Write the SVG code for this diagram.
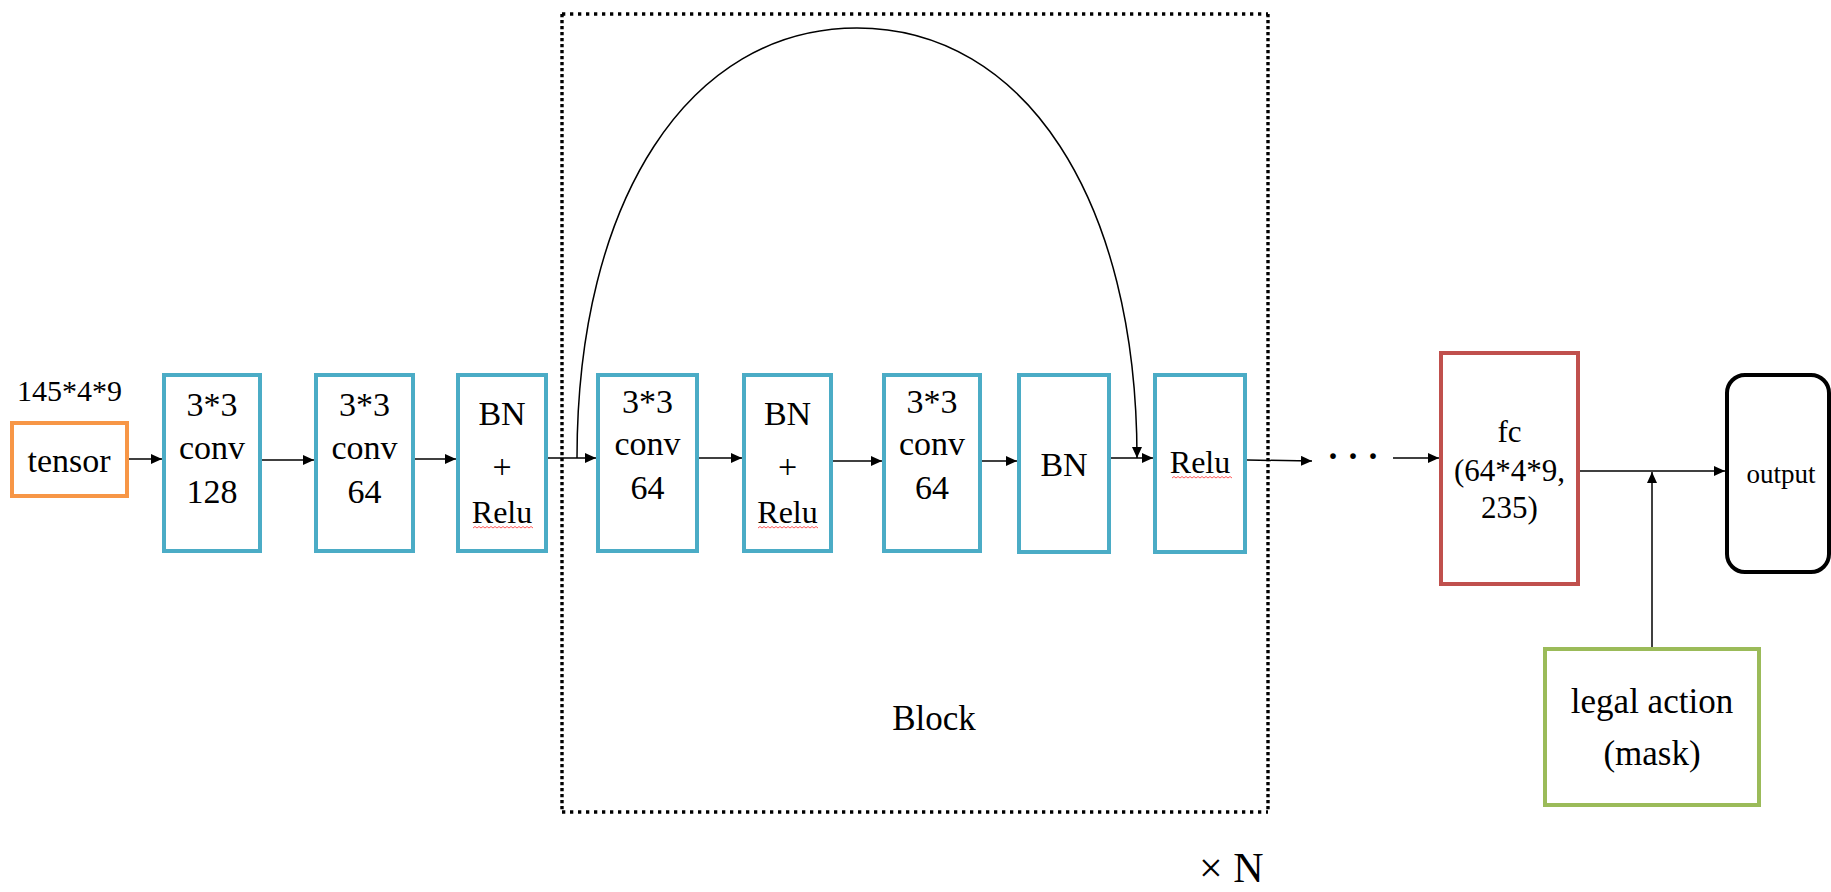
<svg xmlns="http://www.w3.org/2000/svg" width="1831" height="892" viewBox="0 0 1831 892">
<style>
text{font-family:"Liberation Serif","Times New Roman",serif;fill:#000;text-anchor:middle}
.blue{fill:#fff;stroke:#4BACC6;stroke-width:4}
.t34{font-size:34px}
.t32{font-size:32px}
.ln{stroke:#000;stroke-width:1.5;fill:none;marker-end:url(#ah)}
.wavy{stroke:#FF5A5A;stroke-width:1;fill:none}
.dot{stroke:#000;stroke-width:3.4;fill:none}
</style>
<defs>
<marker id="ah" markerUnits="userSpaceOnUse" viewBox="0 0 11 10" refX="11" refY="5" markerWidth="11" markerHeight="10" orient="auto">
<path d="M0,0 L11,5 L0,10 z" fill="#000"/>
</marker>
</defs>
<rect width="1831" height="892" fill="#fff"/>

<g id="block-frame">
<path class="dot" d="M562,14 H1268 M562,812 H1268" stroke-dasharray="3.3 4.7"/>
<path class="dot" d="M562,14 V812 M1268,14 V812" stroke-dasharray="3.3 2.7"/>
<text x="934" y="730" style="font-size:35px">Block</text>
</g>
<text x="1199" y="882" style="font-size:42px;text-anchor:start">× N</text>

<text x="17" y="401" style="font-size:30px;text-anchor:start">145*4*9</text>

<g id="tensor">
<rect x="12" y="423" width="115" height="73" fill="#fff" stroke="#F79646" stroke-width="4"/>
<text x="69" y="472" class="t34">tensor</text>
</g>

<g id="conv128">
<rect class="blue" x="164" y="375" width="96" height="176"/>
<text class="t34" x="212" y="416">3*3</text>
<text class="t34" x="212" y="459">conv</text>
<text class="t34" x="212" y="503">128</text>
</g>

<g id="conv64a">
<rect class="blue" x="316" y="375" width="97" height="176"/>
<text class="t34" x="364.5" y="416">3*3</text>
<text class="t34" x="364.5" y="459">conv</text>
<text class="t34" x="364.5" y="503">64</text>
</g>

<g id="bnrelu1">
<rect class="blue" x="458" y="375" width="88" height="176"/>
<text class="t34" x="502" y="425">BN</text>
<text class="t34" x="502" y="478">+</text>
<text class="t32" x="502" y="523">Relu</text>
<path class="wavy" d="M473,528 l2,-1.5 l2,1.5 l2,-1.5 l2,1.5 l2,-1.5 l2,1.5 l2,-1.5 l2,1.5 l2,-1.5 l2,1.5 l2,-1.5 l2,1.5 l2,-1.5 l2,1.5 l2,-1.5 l2,1.5 l2,-1.5 l2,1.5 l2,-1.5 l2,1.5 l2,-1.5 l2,1.5 l2,-1.5 l2,1.5 l2,-1.5 l2,1.5 l2,-1.5 l2,1.5 l2,-1.5 l2,1.5"/>
</g>

<g id="conv64b">
<rect class="blue" x="598" y="375" width="99" height="176"/>
<text class="t34" x="647.5" y="413">3*3</text>
<text class="t34" x="647.5" y="455">conv</text>
<text class="t34" x="647.5" y="499">64</text>
</g>

<g id="bnrelu2">
<rect class="blue" x="744" y="375" width="87" height="176"/>
<text class="t34" x="787.5" y="425">BN</text>
<text class="t34" x="787.5" y="478">+</text>
<text class="t32" x="787.5" y="523">Relu</text>
<path class="wavy" d="M758,528 l2,-1.5 l2,1.5 l2,-1.5 l2,1.5 l2,-1.5 l2,1.5 l2,-1.5 l2,1.5 l2,-1.5 l2,1.5 l2,-1.5 l2,1.5 l2,-1.5 l2,1.5 l2,-1.5 l2,1.5 l2,-1.5 l2,1.5 l2,-1.5 l2,1.5 l2,-1.5 l2,1.5 l2,-1.5 l2,1.5 l2,-1.5 l2,1.5 l2,-1.5 l2,1.5 l2,-1.5 l2,1.5"/>
</g>

<g id="conv64c">
<rect class="blue" x="884" y="375" width="96" height="176"/>
<text class="t34" x="932" y="413">3*3</text>
<text class="t34" x="932" y="455">conv</text>
<text class="t34" x="932" y="499">64</text>
</g>

<g id="bn">
<rect class="blue" x="1019" y="375" width="90" height="177"/>
<text class="t34" x="1064" y="476">BN</text>
</g>

<g id="relu">
<rect class="blue" x="1155" y="375" width="90" height="177"/>
<text class="t32" x="1200" y="473">Relu</text>
<path class="wavy" d="M1172,478 l2,-1.5 l2,1.5 l2,-1.5 l2,1.5 l2,-1.5 l2,1.5 l2,-1.5 l2,1.5 l2,-1.5 l2,1.5 l2,-1.5 l2,1.5 l2,-1.5 l2,1.5 l2,-1.5 l2,1.5 l2,-1.5 l2,1.5 l2,-1.5 l2,1.5 l2,-1.5 l2,1.5 l2,-1.5 l2,1.5 l2,-1.5 l2,1.5 l2,-1.5 l2,1.5 l2,-1.5 l2,1.5"/>
</g>

<text x="1333 1353 1373" y="472" style="font-size:48px">···</text>

<g id="fc">
<rect x="1441" y="353" width="137" height="231" fill="#fff" stroke="#C0504D" stroke-width="4"/>
<text x="1509.5" y="442" style="font-size:31px">fc</text>
<text x="1509.5" y="481" style="font-size:31px">(64*4*9,</text>
<text x="1509.5" y="518" style="font-size:31px">235)</text>
</g>

<g id="output">
<rect x="1727" y="375" width="102" height="197" rx="18" ry="18" fill="#fff" stroke="#000" stroke-width="4"/>
<text x="1781" y="483" style="font-size:27px">output</text>
</g>

<g id="legal">
<rect x="1545" y="649" width="214" height="156" fill="#fff" stroke="#9BBB59" stroke-width="4"/>
<text x="1652" y="713" style="font-size:35px">legal action</text>
<text x="1652" y="765" style="font-size:35px">(mask)</text>
</g>

<g id="connectors">
<line class="ln" x1="129" y1="459" x2="162" y2="459"/>
<line class="ln" x1="262" y1="460" x2="314" y2="460"/>
<line class="ln" x1="415" y1="459" x2="456" y2="459"/>
<line class="ln" x1="548" y1="458" x2="596" y2="458"/>
<line class="ln" x1="699" y1="458" x2="742" y2="458"/>
<line class="ln" x1="833" y1="461" x2="882" y2="461"/>
<line class="ln" x1="982" y1="461" x2="1017" y2="461"/>
<line class="ln" x1="1111" y1="458" x2="1153" y2="458"/>
<line class="ln" x1="1247" y1="460" x2="1312" y2="461"/>
<line class="ln" x1="1393" y1="458" x2="1439" y2="458"/>
<line class="ln" x1="1580" y1="471" x2="1725" y2="471"/>
<line class="ln" x1="1652" y1="647" x2="1652" y2="472"/>
<path class="ln" d="M577,458 C577,200 689,28 857,28 C1025,28 1137,200 1137,458"/>
</g>
</svg>
